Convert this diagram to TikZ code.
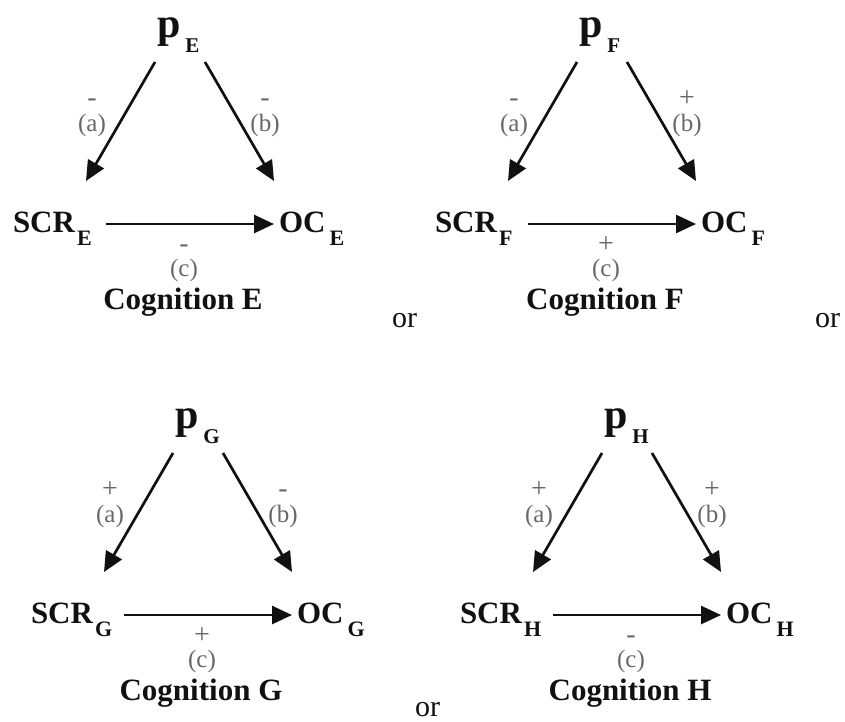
\documentclass[tikz,border=0pt]{standalone}
\usepackage{fontspec}
\setmainfont{Liberation Serif}
\usetikzlibrary{arrows.meta}
\definecolor{lab}{HTML}{686868}
\definecolor{ink}{HTML}{111111}
\tikzset{
  every node/.style={inner sep=0pt, outer sep=0pt},
  ptext/.style={anchor=base west, text=ink, font=\fontsize{42}{42}\selectfont\bfseries},
  vtext/.style={anchor=base west, text=ink, font=\fontsize{31}{31}\selectfont\bfseries},
  captext/.style={anchor=base, text=ink, font=\fontsize{31}{31}\selectfont\bfseries},
  labtext/.style={anchor=base, text=lab, font=\fontsize{25}{25}\selectfont},
  signtext/.style={anchor=base, text=lab, font=\fontsize{28}{28}\selectfont},
  ortext/.style={anchor=base west, text=ink, font=\fontsize{30}{30}\selectfont},
  arr/.style={draw=ink, line width=2.7pt, -{Triangle[length=20pt,width=18pt]}},
}
\newcommand\lowsub[4]{\kern#1pt\raisebox{-#2pt}{\fontsize{#3}{#3}\selectfont #4}}
\newcommand\panel[6]{%
  \begin{scope}[shift={(#1,#2)}]
    \node[ptext] (p#3) at (-23,37) {p\lowsub{5}{15}{21}{#3}};
    \node[vtext] (scr#3) at (-167,232) {SCR\lowsub{2}{13}{22}{#3}};
    \node[vtext] (oc#3) at (99,232) {OC\lowsub{4}{13}{22}{#3}};
    \draw[arr] ([shift={(-2,25)}]p#3.base west) -- ([shift={(73,-51)}]scr#3.base west);
    \draw[arr] ([shift={(48,25)}]p#3.base west) -- ([shift={(-5,-51)}]oc#3.base west);
    \draw[arr] ([shift={(93,-8)}]scr#3.base west) -- ([shift={(-5,-8)}]oc#3.base west);
    \node[signtext] (sa#3) at (-88,106) {#4};
    \node[labtext] (la#3) at (-88,131) {(a)};
    \node[signtext] (sb#3) at (85,106) {#5};
    \node[labtext] (lb#3) at (85,131) {(b)};
    \node[signtext] (sc#3) at (4,252) {#6};
    \node[labtext] (lc#3) at (4,276) {(c)};
    \node[captext] (cap#3) at (3,309) {Cognition #3};
  \end{scope}}
\begin{document}
\begin{tikzpicture}[x=1pt,y=-1pt]
  \useasboundingbox[fill=white] (0,0) rectangle (845,721);
  \panel{180}{0}{E}{-}{-}{-}
  \panel{602}{0}{F}{-}{+}{+}
  \panel{198}{391}{G}{+}{-}{+}
  \panel{627}{391}{H}{+}{+}{-}
  \node[ortext] (or1) at (392,327) {or};
  \node[ortext] (or2) at (815,327) {or};
  \node[ortext] (or3) at (415,716) {or};
\end{tikzpicture}
\end{document}
